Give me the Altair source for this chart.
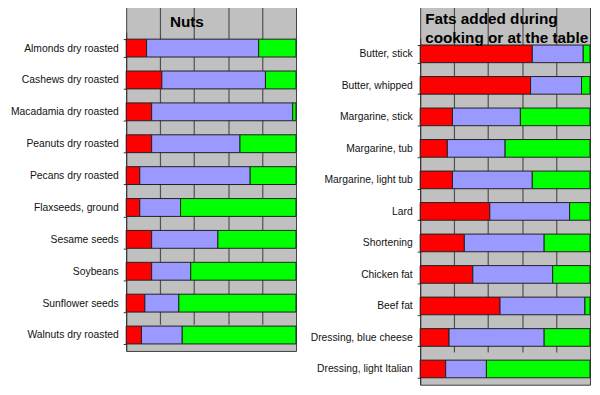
import altair as alt
import pandas as pd

components = ["Saturated", "Monounsaturated", "Polyunsaturated"]
colors = ["#FF0000", "#9999FF", "#00FF00"]

nuts_cats = ["Almonds dry roasted", "Cashews dry roasted", "Macadamia dry roasted",
             "Peanuts dry roasted", "Pecans dry roasted", "Flaxseeds, ground",
             "Sesame seeds", "Soybeans", "Sunflower seeds", "Walnuts dry roasted"]
nuts_sat = [12, 21, 15, 15, 8, 8, 15, 15, 11, 9]
nuts_mono = [66, 61, 83, 52, 65, 24, 39, 23, 20, 24]
nuts_poly = [22, 18, 2, 33, 27, 68, 46, 62, 69, 67]

fats_cats = ["Butter, stick", "Butter, whipped", "Margarine, stick", "Margarine, tub",
             "Margarine, light tub", "Lard", "Shortening", "Chicken fat", "Beef fat",
             "Dressing, blue cheese", "Dressing, light Italian"]
fats_sat = [66, 65, 19, 16, 19, 41, 26, 31, 47, 17, 15]
fats_mono = [30, 30, 40, 34, 47, 47, 47, 47, 50, 56, 24]
fats_poly = [4, 5, 41, 50, 34, 12, 27, 22, 3, 27, 61]

nuts_title = ["Nuts"]
fats_title = ["Fats added during", "cooking or at the table"]

FONT = "Liberation Sans"
W = 171
EXT = 117


def panel(cats, sat, mono, poly, title_lines, title_x, first_baseline, height, top):
    rows = []
    for i, c in enumerate(cats):
        for k, (comp, v) in enumerate(zip(components, [sat[i], mono[i], poly[i]])):
            rows.append({"item": c, "component": comp, "value": v, "k": k})
    df = pd.DataFrame(rows)
    bars = alt.Chart(df).mark_bar(stroke="#202020", strokeWidth=1).encode(
        x=alt.X("value:Q", stack="zero",
                scale=alt.Scale(domain=[0, 100], nice=False),
                axis=alt.Axis(title=None, labels=False, ticks=False, domain=False,
                              grid=True, gridColor="#505050", gridWidth=1.2,
                              values=[20, 40, 60, 80])),
        y=alt.Y("item:N", sort=cats,
                scale=alt.Scale(range=[top, height], paddingInner=0.44, paddingOuter=0.22),
                axis=alt.Axis(title=None, labelFont=FONT, labelFontSize=10.4,
                              labelColor="#111", tickBand="extent", tickSize=3,
                              tickColor="#333", domain=True, domainColor="#333",
                              minExtent=EXT, maxExtent=EXT, labelPadding=5,
                              labelLimit=0)),
        color=alt.Color("component:N", scale=alt.Scale(domain=components, range=colors),
                        legend=None),
        order=alt.Order("k:Q"),
    )
    layers = [bars]
    for j, line in enumerate(title_lines):
        tdf = pd.DataFrame({"t": [line]})
        layers.append(
            alt.Chart(tdf).mark_text(
                align="left", baseline="alphabetic", font=FONT, fontSize=15.4,
                fontWeight="bold", color="black",
            ).encode(text="t:N", x=alt.value(title_x),
                     y=alt.value(first_baseline + 19 * j))
        )
    return alt.layer(*layers).properties(width=W, height=height)


left = panel(nuts_cats, nuts_sat, nuts_mono, nuts_poly, nuts_title, 44, 22, 348, 27)
right = panel(fats_cats, fats_sat, fats_mono, fats_poly, fats_title, 5, 19, 382, 33)

chart = alt.hconcat(left, right, spacing=6).properties(
    padding={"top": -10, "left": 1, "right": 1, "bottom": 0}, background="white"
).configure_view(fill="#C0C0C0", stroke="#404040", strokeWidth=1)

chart.save("out.html", embed_options={"renderer": "svg", "actions": False})
